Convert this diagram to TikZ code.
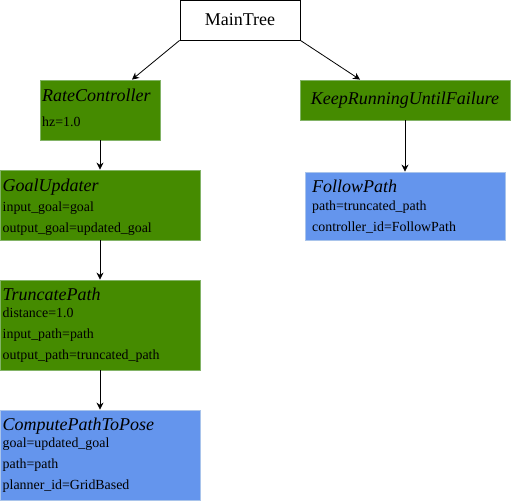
\documentclass[tikz,border=0pt]{standalone}
\usepackage{fontspec}
\setmainfont{Liberation Serif}
\usetikzlibrary{arrows.meta}

\definecolor{ctrlgreen}{HTML}{458B00}
\definecolor{ctrlgreenline}{HTML}{82B366}
\definecolor{actblue}{HTML}{6495ED}
\definecolor{actblueline}{HTML}{A9C4EB}

\tikzset{
    treebox/.style={draw, rectangle, inner sep=0pt, line width=0.8pt},
    ctrlbox/.style={treebox, fill=ctrlgreen, draw=ctrlgreenline},
    actbox/.style={treebox, fill=actblue, draw=actblueline},
    btitle/.style={anchor=base west, inner sep=0pt, font=\fontsize{18}{20}\selectfont\itshape},
    bparam/.style={anchor=base west, inner sep=0pt, font=\fontsize{13.9}{16}\selectfont},
    edge/.style={-{Stealth[length=7pt,width=7pt]}, line width=0.8pt},
}

\begin{document}
\begin{tikzpicture}[x=1pt, y=-1pt]
        \useasboundingbox (0,0) rectangle (511,501);

        % Boxes
        \node (main) [treebox, minimum width=120pt, minimum height=40pt, font=\fontsize{18}{20}\selectfont] at (240,20) {MainTree};
        \node (rate) [ctrlbox, minimum width=120pt, minimum height=60pt] at (100,110) {};
        \node (keep) [ctrlbox, minimum width=210pt, minimum height=40pt, font=\fontsize{18}{20}\selectfont\itshape] at (405,100) {KeepRunningUntilFailure};
        \node (goal) [ctrlbox, minimum width=200pt, minimum height=70pt] at (100,205) {};
        \node (follow) [actbox, minimum width=200pt, minimum height=68pt] at (405,206) {};
        \node (trunc) [ctrlbox, minimum width=200pt, minimum height=90pt] at (100,325) {};
        \node (compute) [actbox, minimum width=200pt, minimum height=90pt] at (100,455) {};

        % Texts
        \node (rateT) [btitle] at (42,101) {RateController};
        \node (rateA) [bparam] at (42,126) {hz=1.0};

        \node (goalT) [btitle] at (2.5,191) {GoalUpdater};
        \node (goalA) [bparam] at (2.5,211) {input\_goal=goal};
        \node (goalB) [bparam] at (2.5,232) {output\_goal=updated\_goal};

        \node (truncT) [btitle] at (2.5,300.5) {TruncatePath};
        \node (truncA) [bparam] at (2.5,317.5) {distance=1.0};
        \node (truncB) [bparam] at (2.5,338) {input\_path=path};
        \node (truncC) [bparam] at (2.5,359) {output\_path=truncated\_path};

        \node (computeT) [btitle] at (2.5,430) {ComputePathToPose};
        \node (computeA) [bparam] at (2.5,447) {goal=updated\_goal};
        \node (computeB) [bparam] at (2.5,468) {path=path};
        \node (computeC) [bparam] at (2.5,489) {planner\_id=GridBased};

        \node (followT) [btitle] at (312,192) {FollowPath};
        \node (followA) [bparam] at (312,210) {path=truncated\_path};
        \node (followB) [bparam] at (312,231) {controller\_id=FollowPath};

        % Edges
        \draw[edge] (main.south west) -- ([xshift=32pt]rate.north);
        \draw[edge] (main.south east) -- ([xshift=-45pt]keep.north);
        \draw[edge] (rate.south) -- (goal.north);
        \draw[edge] (goal.south) -- (trunc.north);
        \draw[edge] (trunc.south) -- (compute.north);
        \draw[edge] (keep.south) -- (follow.north);
\end{tikzpicture}
\end{document}
